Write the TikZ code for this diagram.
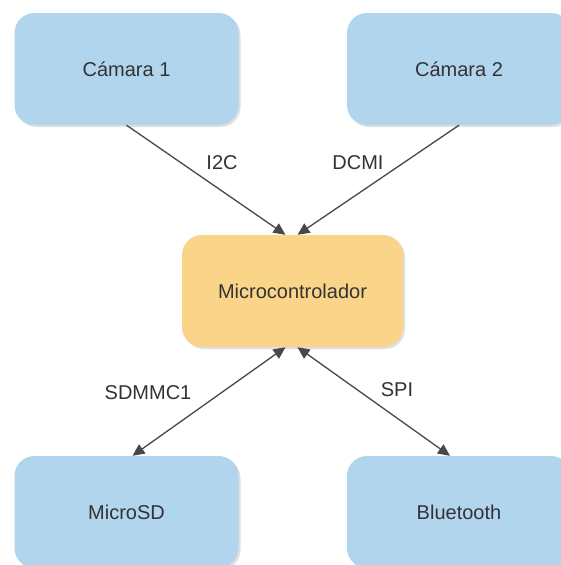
\documentclass[tikz,border=0pt]{standalone}
\usepackage{fontspec}
\setmainfont{Liberation Sans}
\usetikzlibrary{arrows.meta,shadows,calc}

\definecolor{boxblue}{RGB}{178,213,238}
\definecolor{boxorange}{RGB}{250,212,136}
\definecolor{txtgray}{RGB}{51,51,51}
\definecolor{linkgray}{RGB}{72,72,72}

\tikzset{
  unit/.style={rectangle, rounded corners=20pt, minimum width=224pt,
    minimum height=112pt, inner sep=0pt, text=txtgray,
    font=\fontsize{20}{24}\selectfont,
    drop shadow={shadow xshift=2pt, shadow yshift=-2pt, opacity=0.12, fill=black}},
  periph/.style={unit, fill=boxblue},
  mcu/.style={unit, fill=boxorange, minimum width=221pt},
  link/.style={draw=linkgray, line width=1.3pt,
    -{Triangle[length=12pt,width=11pt]}},
  duplex/.style={link, {Triangle[length=12pt,width=11pt]}-{Triangle[length=12pt,width=11pt]}},
  bus/.style={text=txtgray, font=\fontsize{20}{24}\selectfont, inner sep=0pt}
}

\begin{document}
\begin{tikzpicture}[x=1pt, y=-1pt]
  \clip (0,0) rectangle (561,565);
  \fill[white] (0,0) rectangle (561,565);

  % blocks
  \node[periph] (cam1) at (126.5,69) {Cámara 1};
  \node[periph] (cam2) at (459,69) {Cámara 2};
  \node[mcu]    (mc)   at (292.5,291) {Microcontrolador};
  \node[periph] (sd)   at (126.5,512) {MicroSD};
  \node[periph] (bt)   at (459,512) {Bluetooth};

  % buses
  \draw[link] (cam1.south) -- ($(mc.north)+(-7,0)$);
  \draw[link] (cam2.south) -- ($(mc.north)+(5,0)$);
  \draw[duplex] ($(mc.south)+(-7,0)$) -- ($(sd.north)+(6,0)$);
  \draw[duplex] ($(mc.south)+(5,0)$) -- ($(bt.north)+(-9,0)$);

  % bus names
  \node[bus] (l1) at (222,163) {I2C};
  \node[bus] (l2) at (358,163) {DCMI};
  \node[bus] (l3) at (148,393) {SDMMC1};
  \node[bus] (l4) at (397,390) {SPI};
\end{tikzpicture}
\end{document}
